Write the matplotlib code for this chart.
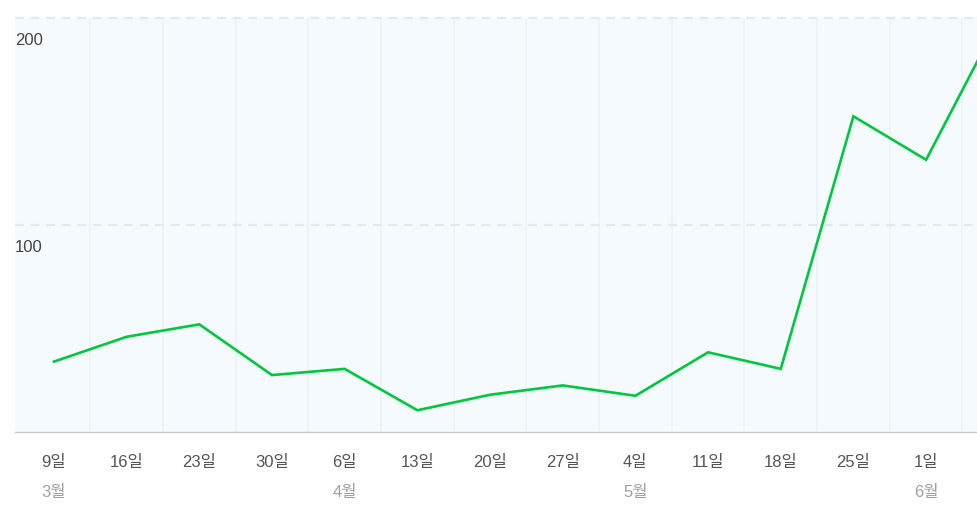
import numpy as np
import matplotlib.pyplot as plt
import matplotlib.transforms as mtransforms

plt.rcParams['font.family'] = ['Liberation Sans', 'Noto Sans CJK KR', 'DejaVu Sans']

days = ['9일', '16일', '23일', '30일', '6일', '13일', '20일', '27일', '4일',
        '11일', '18일', '25일', '1일', '8일']
months = {0: '3월', 4: '4월', 8: '5월', 12: '6월'}
values = [34, 46, 52, 27.5, 30.5, 10.5, 18, 22.5, 17.5, 38.5, 30.5, 152.5, 131.5, 199]
y_ticks = [100, 200]

fig = plt.figure(figsize=(9.77, 5.28), dpi=100)
W, H = 977, 528
ax = fig.add_axes([15 / W, (H - 432) / H, (W - 15) / W, (432 - 18) / H])
ax.set_facecolor('#f5faff')

x = np.arange(len(values))
xmin, xmax = -0.536, 12.70
ax.set_xlim(xmin, xmax)
ax.set_ylim(0, 200)

# vertical band separators
for b in np.arange(0.5, len(values), 1.0):
    ax.axvline(b, color='#eaf2fb', lw=1.2, zorder=1)
# horizontal dashed grid
for t in y_ticks:
    ax.axhline(t, color='#e3e9f0', lw=1.6, ls=(0, (4, 3)), zorder=1, clip_on=False)

ax.plot(x, values, color='#00c73c', lw=1.9, zorder=3, solid_joinstyle='miter')

for s in ['top', 'left', 'right']:
    ax.spines[s].set_visible(False)
ax.spines['bottom'].set_color('#c3c7cc')
ax.spines['bottom'].set_linewidth(1.0)

ax.set_yticks([])
ax.set_xticks([])

# y labels sit under their grid lines
for t in y_ticks:
    tr = mtransforms.blended_transform_factory(ax.transAxes, ax.transData) + \
        mtransforms.ScaledTranslation(0, -22 / 100, fig.dpi_scale_trans)
    ax.text(0.0, t, str(t), transform=tr, ha='left', va='center',
            fontsize=12, color='#444444')

# day and month labels (only for weeks inside the visible range)
for i, d in enumerate(days):
    if i > xmax:
        continue
    tr = ax.get_xaxis_transform() + mtransforms.ScaledTranslation(0, -30 / 100, fig.dpi_scale_trans)
    ax.text(i, 0, d, transform=tr, ha='center', va='center', fontsize=12,
            color='#555555', clip_on=False)
for i, m in months.items():
    tr = ax.get_xaxis_transform() + mtransforms.ScaledTranslation(0, -60 / 100, fig.dpi_scale_trans)
    ax.text(i, 0, m, transform=tr, ha='center', va='center', fontsize=12,
            color='#a0a0a0', clip_on=False)

fig.savefig('out.png', dpi=100)
